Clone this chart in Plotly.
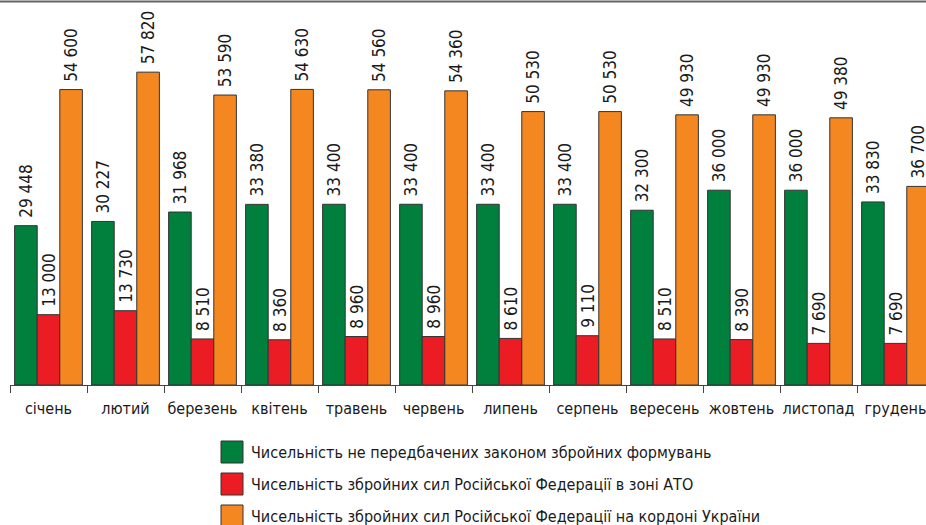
import plotly.graph_objects as go

months = ["січень", "лютий", "березень", "квітень", "травень", "червень",
          "липень", "серпень", "вересень", "жовтень", "листопад", "грудень"]
illegal_groups = [29448, 30227, 31968, 33380, 33400, 33400, 33400, 33400, 32300, 36000, 36000, 33830]
rf_in_ato = [13000, 13730, 8510, 8360, 8960, 8960, 8610, 9110, 8510, 8390, 7690, 7690]
rf_on_border = [54600, 57820, 53590, 54630, 54560, 54360, 50530, 50530, 49930, 49930, 49380, 36700]

names = [
    "Чисельність не передбачених законом збройних формувань",
    "Чисельність збройних сил Російської Федерації в зоні АТО",
    "Чисельність збройних сил Російської Федерації на кордоні України",
]
colors = ["#007f3d", "#ec1c24", "#f58721"]
FONT = "DejaVu Sans Condensed, Liberation Sans Narrow, sans-serif"


def fmt(v):
    # leading nbsp gives a little air between bar and label
    return "\u00a0" + f"{v:,}".replace(",", " ")


fig = go.Figure()
for name, vals, col in zip(names, [illegal_groups, rf_in_ato, rf_on_border], colors):
    fig.add_trace(go.Bar(
        x=months, y=vals, name=name,
        marker=dict(color=col, line=dict(color="#333333", width=1)),
        text=[fmt(v) for v in vals], textposition="outside", textangle=-90,
        textfont=dict(family=FONT, size=17, color="#1a1a1a"),
        constraintext="none", cliponaxis=False, showlegend=False,
    ))

# legend drawn as boxes + labels below the chart
W, H, L, T, B = 926, 525, 10, 3, 385
for i, (name, col) in enumerate(zip(names, colors)):
    top = 441 + i * 32
    fig.add_shape(type="rect", xref="paper", yref="paper",
                  x0=(221 - L) / (W - L), x1=(243 - L) / (W - L),
                  y0=(B - top) / (B - T), y1=(B - top - 22) / (B - T),
                  fillcolor=col, line=dict(color="#333333", width=1))
    fig.add_annotation(xref="paper", yref="paper", x=(249 - L) / (W - L),
                       y=(B - top - 11) / (B - T), text=name, showarrow=False,
                       xanchor="left", yanchor="middle",
                       font=dict(family=FONT, size=16, color="#1a1a1a"))

# grey rule at the top of the figure
fig.add_shape(type="line", xref="paper", yref="paper", x0=-L / (W - L), x1=1,
              y0=1 + 1.5 / (B - T), y1=1 + 1.5 / (B - T),
              line=dict(color="#666666", width=2))

fig.update_layout(
    width=W, height=H,
    margin=dict(l=L, r=0, t=T, b=H - B),
    paper_bgcolor="white", plot_bgcolor="white",
    barmode="group", bargap=0.12, bargroupgap=0,
    font=dict(family=FONT, color="#1a1a1a"),
)
fig.update_xaxes(
    range=[-0.5, -0.5 + (W - L) / 77.0],
    showline=True, linecolor="#444444", linewidth=1,
    ticks="outside", tickson="boundaries", ticklen=7, tickcolor="#444444",
    tickangle=0, ticklabelstandoff=9,
    tickfont=dict(family=FONT, size=16, color="#1a1a1a"),
    showgrid=False,
)
fig.update_yaxes(range=[0, 70600], visible=False, showgrid=False)

fig.write_html(
    "out.html",
    config={"displayModeBar": False},
    post_script="document.body.style.margin='0';document.body.style.overflow='hidden';",
)
